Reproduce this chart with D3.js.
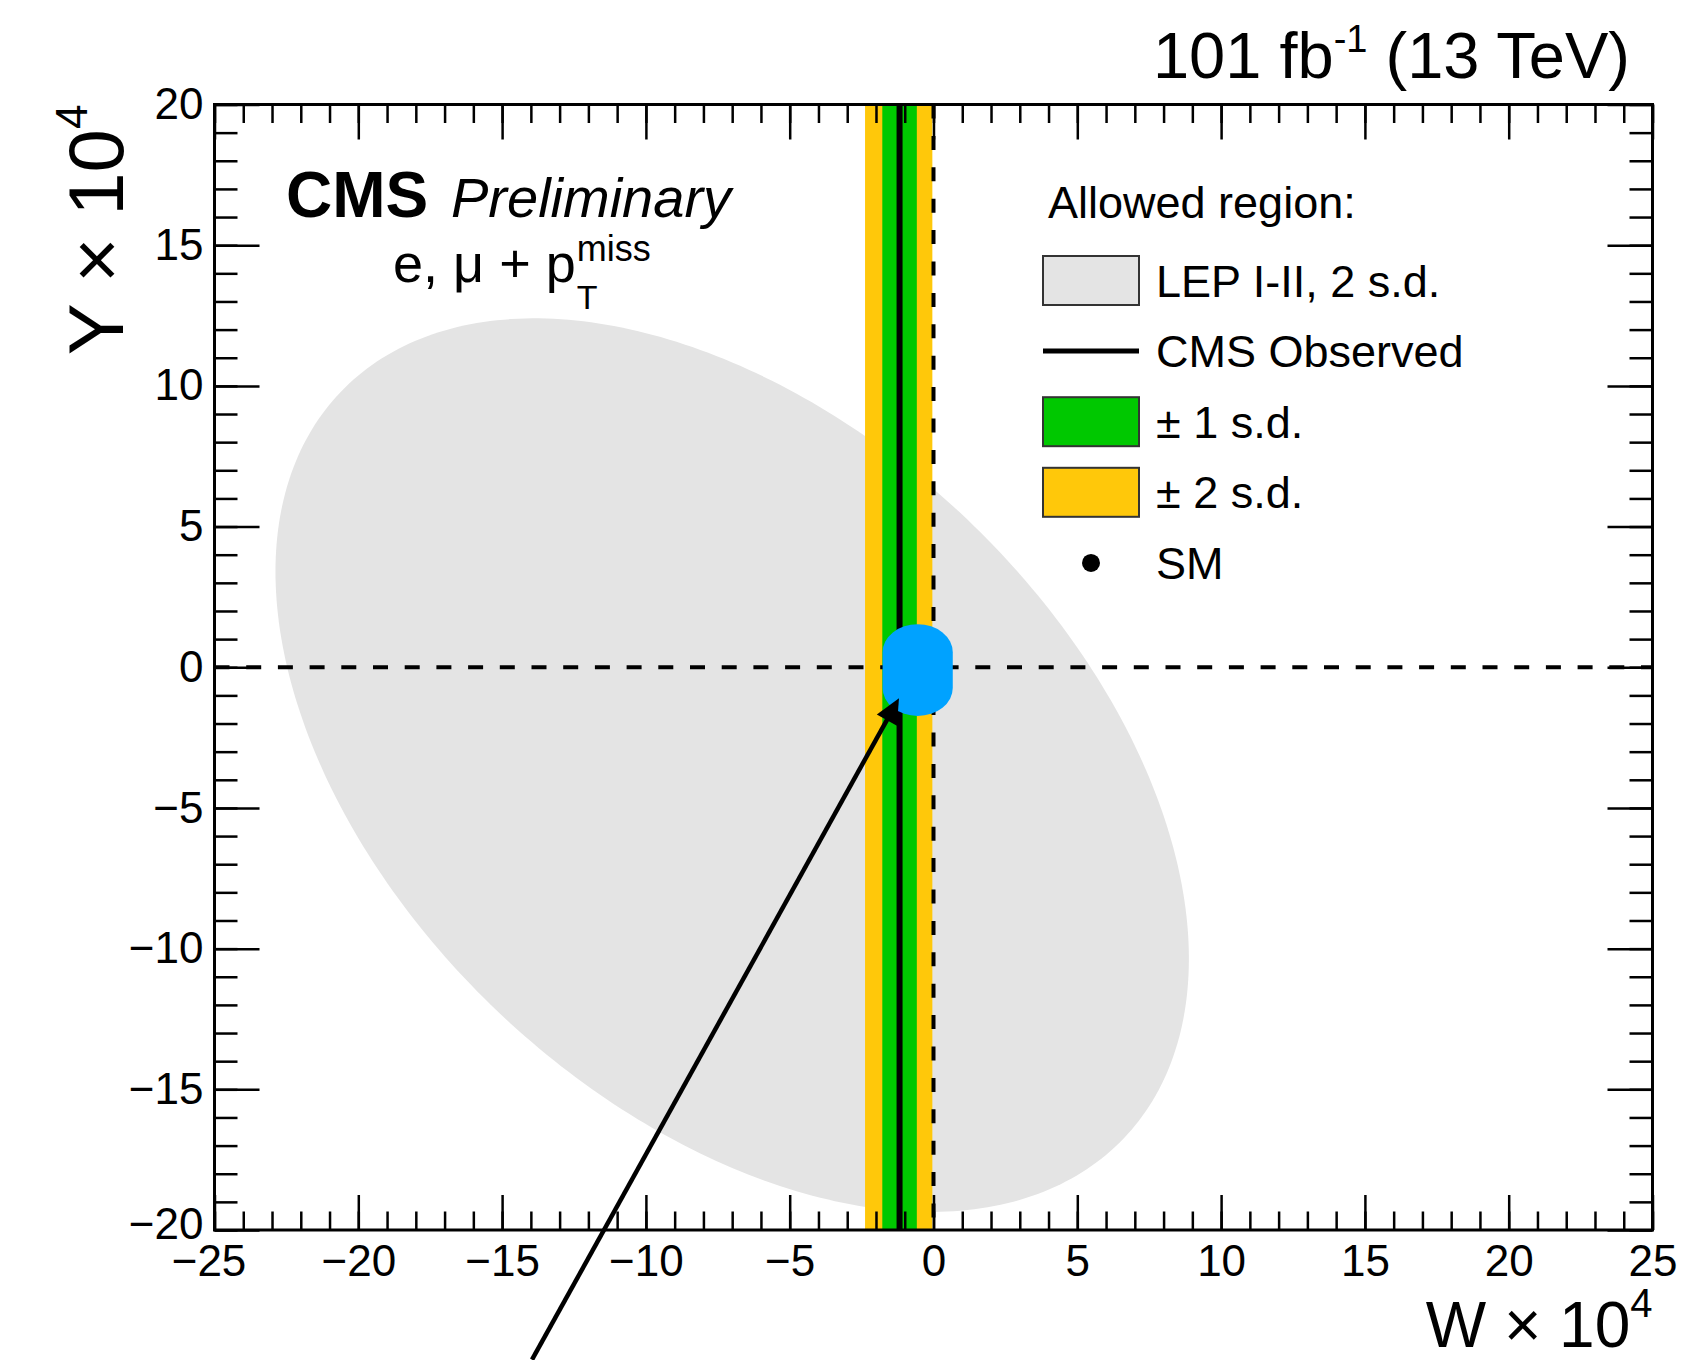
<!DOCTYPE html>
<html>
<head>
<meta charset="utf-8">
<script src="https://cdn.jsdelivr.net/npm/d3@7"></script>
<style>
  html, body { margin: 0; padding: 0; background: #fff; }
  svg { display: block; font-family: "Liberation Sans", Arial, Helvetica, sans-serif; }
</style>
</head>
<body>
<svg id="chart" width="1707" height="1360"></svg>
<script>
// Axis ranges and labelled ticks (W × 10^4 horizontal, Y × 10^4 vertical)
const wDomain = [-25, 25];
const yDomain = [-20, 20];
const wMajorTicks = [-25, -20, -15, -10, -5, 0, 5, 10, 15, 20, 25];
const yMajorTicks = [-20, -15, -10, -5, 0, 5, 10, 15, 20];

// LEP I-II, 2 s.d. allowed region: ellipse centre, half-extents along W and Y, correlation
const lepCenter = [-7.0, -3.48];
const lepHalfExtent = [15.88, 15.88];
const lepCorrelation = -0.433;

// CMS observed W and its ±1 / ±2 s.d. bands
const cmsObserved = -1.18;
const cmsBand1 = [-1.78, -0.58];
const cmsBand2 = [-2.38, -0.04];

// Standard Model point
const smPoint = [0, 0];

// Highlight around the SM point and the arrow pointing at it
const smHighlightW = [-1.77, 0.67];
const smHighlightY = [-1.73, 1.53];
const arrowFrom = [-13.96, -24.61];
const arrowTo = [-1.2, -1.1];

// Legend
const legendTitle = "Allowed region:";
const legendLabels = ["LEP I-II, 2 s.d.", "CMS Observed", "± 1 s.d.", "± 2 s.d.", "SM"];

const colors = {
  lep: "#e4e4e4",
  band1: "#00c800",
  band2: "#ffc80a",
  highlight: "#00a2ff"
};

const frame = { left: 214.5, right: 1652.5, top: 104.5, bottom: 1230 };
const svg = d3.select("#chart");

const x = d3.scaleLinear().domain(wDomain).range([frame.left, frame.right]);
const y = d3.scaleLinear().domain(yDomain).range([frame.bottom, frame.top]);

svg.append("rect").attr("width", 1707).attr("height", 1360).attr("fill", "#fff");

svg.append("defs").append("clipPath").attr("id", "plot-clip")
  .append("rect")
  .attr("x", frame.left).attr("y", frame.top)
  .attr("width", frame.right - frame.left).attr("height", frame.bottom - frame.top);

const plot = svg.append("g").attr("clip-path", "url(#plot-clip)");

// LEP ellipse
const rho = lepCorrelation;
const ellipsePts = d3.range(0, 360, 1).map(deg => {
  const t = deg * Math.PI / 180;
  return [
    lepCenter[0] + lepHalfExtent[0] * Math.cos(t),
    lepCenter[1] + lepHalfExtent[1] * (rho * Math.cos(t) + Math.sqrt(1 - rho * rho) * Math.sin(t))
  ];
});
plot.append("path")
  .attr("d", d3.line().x(d => x(d[0])).y(d => y(d[1])).curve(d3.curveLinearClosed)(ellipsePts))
  .attr("fill", colors.lep);

// CMS bands and observed line
plot.append("rect")
  .attr("x", x(cmsBand2[0])).attr("y", frame.top)
  .attr("width", x(cmsBand2[1]) - x(cmsBand2[0])).attr("height", frame.bottom - frame.top)
  .attr("fill", colors.band2);
plot.append("rect")
  .attr("x", x(cmsBand1[0])).attr("y", frame.top)
  .attr("width", x(cmsBand1[1]) - x(cmsBand1[0])).attr("height", frame.bottom - frame.top)
  .attr("fill", colors.band1);
plot.append("line")
  .attr("x1", x(cmsObserved)).attr("x2", x(cmsObserved))
  .attr("y1", frame.top).attr("y2", frame.bottom)
  .attr("stroke", "#000").attr("stroke-width", 6);

// Dashed reference lines at W = 0 and Y = 0
plot.append("line")
  .attr("x1", x(wDomain[0])).attr("x2", x(wDomain[1]))
  .attr("y1", y(0)).attr("y2", y(0))
  .attr("stroke", "#000").attr("stroke-width", 4)
  .attr("stroke-dasharray", "15 16.7");
plot.append("line")
  .attr("x1", x(0)).attr("x2", x(0))
  .attr("y1", y(yDomain[1])).attr("y2", y(yDomain[0]))
  .attr("stroke", "#000").attr("stroke-width", 4)
  .attr("stroke-dasharray", "14 17.4");

// SM point
plot.append("circle")
  .attr("cx", x(smPoint[0])).attr("cy", y(smPoint[1])).attr("r", 9).attr("fill", "#000");

// Axes: major and minor ticks drawn inward on all four sides
const fmt = d => (d < 0 ? "\u2212" + Math.abs(d) : String(d));

function styleAxis(g) {
  g.select(".domain").remove();
  g.attr("font-size", 44).attr("font-family", null);
  g.selectAll(".tick line").attr("stroke-width", 2.5);
  g.selectAll(".tick text").attr("fill", "#000");
}

svg.append("g").attr("transform", `translate(0,${frame.bottom})`)
  .call(d3.axisBottom(x).tickValues(x.ticks(50)).tickSize(-18.5).tickSizeOuter(0).tickFormat(""))
  .call(styleAxis);
svg.append("g").attr("transform", `translate(0,${frame.bottom})`)
  .call(d3.axisBottom(x).tickValues(wMajorTicks).tickSize(-35).tickSizeOuter(0).tickPadding(15).tickFormat(fmt))
  .call(styleAxis)
  .call(g => g.selectAll(".tick text").attr("dx", d => (d === wDomain[0] ? -6 : 0)));

svg.append("g").attr("transform", `translate(0,${frame.top})`)
  .call(d3.axisTop(x).tickValues(x.ticks(50)).tickSize(-18.5).tickSizeOuter(0).tickFormat(""))
  .call(styleAxis);
svg.append("g").attr("transform", `translate(0,${frame.top})`)
  .call(d3.axisTop(x).tickValues(wMajorTicks).tickSize(-35).tickSizeOuter(0).tickFormat(""))
  .call(styleAxis);

svg.append("g").attr("transform", `translate(${frame.left},0)`)
  .call(d3.axisLeft(y).tickValues(y.ticks(40)).tickSize(-23).tickSizeOuter(0).tickFormat(""))
  .call(styleAxis);
svg.append("g").attr("transform", `translate(${frame.left},0)`)
  .call(d3.axisLeft(y).tickValues(yMajorTicks).tickSize(-45).tickSizeOuter(0).tickPadding(11).tickFormat(fmt))
  .call(styleAxis)
  .call(g => g.selectAll(".tick text").attr("dy", d => (d === yDomain[0] ? "0.2em" : "0.32em")));

svg.append("g").attr("transform", `translate(${frame.right},0)`)
  .call(d3.axisRight(y).tickValues(y.ticks(40)).tickSize(-23).tickSizeOuter(0).tickFormat(""))
  .call(styleAxis);
svg.append("g").attr("transform", `translate(${frame.right},0)`)
  .call(d3.axisRight(y).tickValues(yMajorTicks).tickSize(-45).tickSizeOuter(0).tickFormat(""))
  .call(styleAxis);

// Frame
svg.append("rect")
  .attr("x", frame.left).attr("y", frame.top)
  .attr("width", frame.right - frame.left).attr("height", frame.bottom - frame.top)
  .attr("fill", "none").attr("stroke", "#000").attr("stroke-width", 3);

// Axis titles
const wTitle = svg.append("text")
  .attr("x", frame.right).attr("y", 1347)
  .attr("text-anchor", "end").attr("font-size", 64);
wTitle.append("tspan").text("W \u00d7 10");
wTitle.append("tspan").attr("font-size", 40).attr("dy", -30).text("4");

const yTitle = svg.append("text")
  .attr("transform", `translate(123,${frame.top}) rotate(-90)`)
  .attr("text-anchor", "end").attr("font-size", 78);
yTitle.append("tspan").text("Y \u00d7 10");
yTitle.append("tspan").attr("font-size", 44).attr("dy", -36).text("4");

// Luminosity and energy label
const lumi = svg.append("text")
  .attr("x", 1630).attr("y", 78)
  .attr("text-anchor", "end").attr("font-size", 65);
lumi.append("tspan").text("101 fb");
lumi.append("tspan").attr("font-size", 38).attr("dy", -26).text("-1");
lumi.append("tspan").attr("dy", 26).text(" (13 TeV)");

// CMS label
svg.append("text").attr("x", 286).attr("y", 217)
  .attr("font-size", 64).attr("font-weight", "bold").text("CMS");
svg.append("text").attr("x", 451).attr("y", 217)
  .attr("font-size", 56).attr("font-style", "italic").text("Preliminary");

// Channel label: e, μ + pT^miss
const chan = svg.append("text").attr("x", 393).attr("y", 282)
  .attr("font-size", 54).text("e, \u03bc + p");
const chanEnd = 393 + chan.node().getComputedTextLength() + 1;
svg.append("text").attr("x", chanEnd).attr("y", 261).attr("font-size", 36).text("miss");
svg.append("text").attr("x", chanEnd).attr("y", 309).attr("font-size", 34).text("T");

// Legend
const legX = 1043, legW = 96, legH = 49, legTextX = 1156, rowY0 = 280.5, rowStep = 70.6;
svg.append("text").attr("x", 1048).attr("y", 218).attr("font-size", 45).text(legendTitle);
const rowY = i => rowY0 + i * rowStep;

svg.append("rect").attr("x", legX).attr("y", rowY(0) - legH / 2).attr("width", legW).attr("height", legH)
  .attr("fill", colors.lep).attr("stroke", "#333").attr("stroke-width", 2);
svg.append("line").attr("x1", legX).attr("x2", legX + legW).attr("y1", rowY(1)).attr("y2", rowY(1))
  .attr("stroke", "#000").attr("stroke-width", 5);
svg.append("rect").attr("x", legX).attr("y", rowY(2) - legH / 2).attr("width", legW).attr("height", legH)
  .attr("fill", colors.band1).attr("stroke", "#333").attr("stroke-width", 2);
svg.append("rect").attr("x", legX).attr("y", rowY(3) - legH / 2).attr("width", legW).attr("height", legH)
  .attr("fill", colors.band2).attr("stroke", "#333").attr("stroke-width", 2);
svg.append("circle").attr("cx", legX + legW / 2).attr("cy", rowY(4)).attr("r", 9).attr("fill", "#000");

legendLabels.forEach((lab, i) => {
  svg.append("text").attr("x", legTextX).attr("y", rowY(i) + 16).attr("font-size", 45).text(lab);
});

// Highlight around the SM point
const hx0 = x(smHighlightW[0]), hx1 = x(smHighlightW[1]);
const hy0 = y(smHighlightY[1]), hy1 = y(smHighlightY[0]);
svg.append("rect")
  .attr("x", hx0).attr("y", hy0).attr("width", hx1 - hx0).attr("height", hy1 - hy0)
  .attr("rx", (hx1 - hx0) / 2).attr("ry", 28)
  .attr("fill", colors.highlight);

// Arrow towards the SM point
const ax0 = x(arrowFrom[0]), ay0 = y(arrowFrom[1]);
const ax1 = x(arrowTo[0]), ay1 = y(arrowTo[1]);
const len = Math.hypot(ax1 - ax0, ay1 - ay0);
const ux = (ax1 - ax0) / len, uy = (ay1 - ay0) / len;
const headLen = 25, headHalf = 11.5;
const bx = ax1 - ux * headLen, by = ay1 - uy * headLen;
svg.append("line")
  .attr("x1", ax0).attr("y1", ay0).attr("x2", bx + ux * 2).attr("y2", by + uy * 2)
  .attr("stroke", "#000").attr("stroke-width", 4.5);
svg.append("path")
  .attr("d", `M${ax1},${ay1}L${bx - uy * headHalf},${by + ux * headHalf}L${bx + uy * headHalf},${by - ux * headHalf}Z`)
  .attr("fill", "#000");
</script>
</body>
</html>
